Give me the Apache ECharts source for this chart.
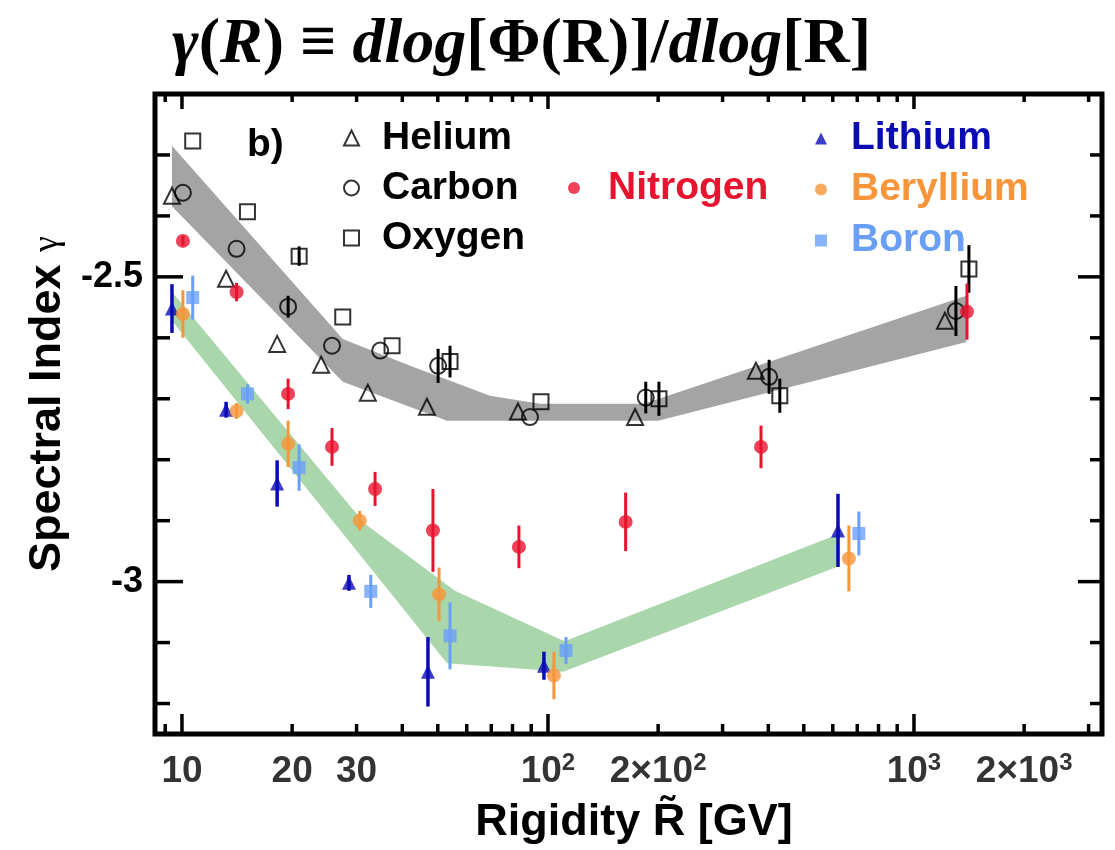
<!DOCTYPE html>
<html>
<head>
<meta charset="utf-8">
<script src="https://cdn.jsdelivr.net/npm/echarts@6/dist/echarts.min.js"></script>
<style>
  html, body { margin: 0; padding: 0; background: #ffffff; }
  #chart { width: 1115px; height: 850px; }
</style>
</head>
<body>
<div id="chart"></div>
<script>
// Spectral index gamma(R) = dlog[Phi(R)]/dlog[R] of cosmic-ray nuclei versus rigidity

// Primary nuclei (open markers)
const heliumR     = [9.39, 13.2, 18.2, 24.0, 32.2, 46.7, 82.8, 173, 370, 1215];
const heliumGamma = [-2.367, -2.503, -2.610, -2.644, -2.690, -2.713, -2.721, -2.730, -2.654, -2.572];
const heliumErr   = [0, 0, 0, 0, 0, 0, 0, 0, 0, 0];

const carbonR     = [10.06, 14.1, 19.5, 25.7, 34.8, 50.1, 89.3, 185, 402, 1302];
const carbonGamma = [-2.362, -2.454, -2.549, -2.613, -2.621, -2.646, -2.730, -2.698, -2.664, -2.556];
const carbonErr   = [0, 0, 0.018, 0, 0, 0.028, 0, 0.026, 0.028, 0.041];

const oxygenR     = [10.7, 15.1, 20.9, 27.5, 37.5, 54.0, 95.7, 201, 430, 1413];
const oxygenGamma = [-2.277, -2.393, -2.466, -2.566, -2.613, -2.639, -2.705, -2.700, -2.695, -2.487];
const oxygenErr   = [0, 0, 0.016, 0, 0, 0.026, 0, 0.028, 0.028, 0.039];

// Nitrogen
const nitrogenR     = [10.06, 14.1, 19.5, 25.7, 33.7, 48.5, 83.3, 163, 382, 1396];
const nitrogenGamma = [-2.441, -2.525, -2.692, -2.779, -2.848, -2.916, -2.943, -2.902, -2.779, -2.557];
const nitrogenErr   = [0.008, 0.015, 0.025, 0.031, 0.028, 0.068, 0.035, 0.048, 0.035, 0.046];

// Secondary nuclei
const lithiumR     = [9.39, 13.2, 18.2, 28.6, 47.0, 97.5, 620];
const lithiumGamma = [-2.552, -2.718, -2.839, -3.002, -3.148, -3.138, -2.916];
const lithiumErr   = [0.040, 0.013, 0.038, 0.013, 0.057, 0.023, 0.060];

const berylliumR     = [10.06, 14.1, 19.5, 30.6, 50.4, 103.8, 664];
const berylliumGamma = [-2.561, -2.720, -2.774, -2.900, -3.021, -3.154, -2.962];
const berylliumErr   = [0.039, 0.013, 0.038, 0.016, 0.044, 0.039, 0.054];

const boronR     = [10.7, 15.1, 20.9, 32.8, 54.0, 112, 707];
const boronGamma = [-2.534, -2.692, -2.813, -3.016, -3.089, -3.113, -2.921];
const boronErr   = [0.036, 0.016, 0.038, 0.027, 0.055, 0.022, 0.036];

// Model bands: upper and lower edges
const grayUpperR     = [9.39, 27.5, 42.0, 69.4, 95.1, 183, 1390];
const grayUpperGamma = [-2.285, -2.602, -2.646, -2.695, -2.708, -2.708, -2.531];
const grayLowerR     = [9.39, 27.5, 53.0, 200, 1390];
const grayLowerGamma = [-2.384, -2.672, -2.736, -2.736, -2.607];

const greenUpperR     = [9.39, 31.6, 55.7, 111, 628];
const greenUpperGamma = [-2.525, -2.905, -3.015, -3.098, -2.921];
const greenLowerR     = [9.39, 53.0, 110, 628];
const greenLowerGamma = [-2.572, -3.134, -3.148, -2.974];

// Axes
const xMin = 8.44, xMax = 3264;
const yMin = -3.25, yMax = -2.2;
const xTickValues = [10, 20, 30, 100, 200, 1000, 2000];
const xTickLabels = ['10', '20', '30', '10^2', '2×10^2', '10^3', '2×10^3'];
const xTickMarks  = [9, 10, 20, 30, 40, 50, 60, 70, 80, 90, 100, 200, 300, 400, 500, 600, 700, 800, 900, 1000, 2000, 3000];
const yTickMarks  = [-3.2, -3.1, -3.0, -2.9, -2.8, -2.7, -2.6, -2.5, -2.4, -2.3];

const SANS = '"Liberation Sans", Arial, Helvetica, sans-serif';
const SERIF = '"Liberation Serif", "Times New Roman", serif';

const C = {
  black: '#000000',
  gray: '#a4a4a4',
  green: '#a9d6ab',
  nitrogen: '#e8132e',
  lithium: '#0b0bb5',
  beryllium: '#f7953a',
  boron: '#6a9ff7'
};

const zip = (a, b) => a.map((v, i) => [v, b[i]]);

function bandSeries(name, upR, upG, loR, loG, color) {
  const pts = zip(upR, upG).concat(zip(loR, loG).reverse());
  return {
    type: 'custom', name: name, z: 1, silent: true, clip: false,
    dimensions: ['r', 'g'],
    encode: { x: 0, y: 1 },
    data: pts,
    renderItem: function (params, api) {
      if (params.dataIndexInside !== 0) return null;
      const poly = [];
      for (let i = 0; i < params.dataInsideLength; i++) {
        poly.push(api.coord([api.value(0, i), api.value(1, i)]));
      }
      return { type: 'polygon', shape: { points: poly }, style: { fill: color } };
    }
  };
}

function errorSeries(name, R, G, E, color, width) {
  return {
    type: 'custom', name: name + ' error', z: 3, silent: true, clip: false,
    dimensions: ['r', 'lo', 'hi'],
    encode: { x: 0, y: [1, 2] },
    data: R.map((r, i) => [r, G[i] - E[i], G[i] + E[i]]),
    renderItem: function (params, api) {
      if (api.value(1) === api.value(2)) return null;
      const a = api.coord([api.value(0), api.value(1)]);
      const b = api.coord([api.value(0), api.value(2)]);
      return {
        type: 'line',
        shape: { x1: a[0], y1: a[1], x2: b[0], y2: b[1] },
        style: { stroke: color, lineWidth: width }
      };
    }
  };
}

function pointSeries(name, R, G, symbol, size, open, color) {
  return {
    type: 'scatter', name: name, z: 4, clip: false,
    symbol: symbol, symbolSize: size,
    itemStyle: open
      ? { color: 'rgba(0,0,0,0)', borderColor: color, borderWidth: 2 }
      : { color: color, borderWidth: 0 },
    data: zip(R, G)
  };
}

const isDecade = v => Math.abs(Math.log10(v) - Math.round(Math.log10(v))) < 1e-9;
const isHalf = g => Math.abs(g * 2 - Math.round(g * 2)) < 1e-9;

function line(x1, y1, x2, y2) {
  return { type: 'line', shape: { x1, y1, x2, y2 }, style: { stroke: '#000', lineWidth: 3.5 } };
}

const xTickSeries = {
  type: 'custom', name: 'x ticks', z: 6, silent: true, clip: false,
  dimensions: ['r', 'g', 'major'],
  encode: { x: 0, y: 1 },
  data: xTickMarks.map(v => [v, yMin, isDecade(v) ? 1 : 0]),
  renderItem: function (params, api) {
    const cs = params.coordSys;
    const p = api.coord([api.value(0), yMin]);
    const major = api.value(2) === 1;
    const bottom = cs.y + cs.height;
    return {
      type: 'group',
      children: [
        line(p[0], bottom, p[0], bottom - (major ? 20 : 10)),
        line(p[0], cs.y, p[0], cs.y + (major ? 15 : 8))
      ]
    };
  }
};

const yTickSeries = {
  type: 'custom', name: 'y ticks', z: 6, silent: true, clip: false,
  dimensions: ['r', 'g', 'major'],
  encode: { x: 0, y: 1 },
  data: yTickMarks.map(g => [xMin, g, isHalf(g) ? 1 : 0]),
  renderItem: function (params, api) {
    const cs = params.coordSys;
    const p = api.coord([xMin, api.value(1)]);
    const major = api.value(2) === 1;
    const right = cs.x + cs.width;
    return {
      type: 'group',
      children: [
        line(cs.x, p[1], cs.x + (major ? 28 : 15), p[1]),
        line(right, p[1], right - (major ? 24 : 12), p[1])
      ]
    };
  }
};

function richTick(s) {
  const m = s.match(/^(.*)\^(\d)$/);
  return m ? '{n|' + m[1] + '}{s|' + m[2] + '}' : '{n|' + s + '}';
}

const xLabelSeries = {
  type: 'scatter', name: 'x labels', z: 6, silent: true, clip: false,
  symbolSize: 0,
  data: xTickValues.map(v => [v, yMin]),
  label: {
    show: true, position: 'bottom', distance: 17,
    formatter: p => richTick(xTickLabels[p.dataIndex]),
    rich: {
      n: { fontFamily: SANS, fontWeight: 'bold', fontSize: 37, color: '#000', lineHeight: 41 },
      s: { fontFamily: SANS, fontWeight: 'bold', fontSize: 24, color: '#000', lineHeight: 24, verticalAlign: 'top' }
    }
  }
};

const legendText = { fontFamily: SANS, fontWeight: 'bold', fontSize: 39, color: '#000' };

const option = {
  animation: false,
  backgroundColor: '#ffffff',
  title: [
    {
      text: '{i|γ}{u|(}{i|R}{u|) ≡ }{i|dlog}{u|[Φ(R)]/}{i|dlog}{u|[R]}',
      left: 172, top: 13, padding: 0,
      textStyle: {
        rich: {
          i: { fontFamily: SERIF, fontStyle: 'italic', fontWeight: 'bold', fontSize: 64, color: '#000' },
          u: { fontFamily: SERIF, fontWeight: 'bold', fontSize: 64, color: '#000' }
        }
      }
    },
    {
      text: 'b)', left: 247, top: 126, padding: 0,
      textStyle: { fontFamily: SANS, fontWeight: 'bold', fontSize: 39, color: '#000' }
    }
  ],
  legend: [
    {
      data: ['Helium', 'Carbon', 'Oxygen'],
      orient: 'vertical', left: 343, top: 113, padding: 0, itemGap: 0,
      itemWidth: 15, itemHeight: 15, selectedMode: false,
      textStyle: Object.assign({}, legendText, { lineHeight: 50, padding: [0, 0, 0, 18] })
    },
    {
      data: [{ name: 'Nitrogen', textStyle: { color: C.nitrogen } }],
      orient: 'vertical', left: 568, top: 163, padding: 0, itemGap: 0,
      itemWidth: 12, itemHeight: 12, selectedMode: false,
      textStyle: Object.assign({}, legendText, { lineHeight: 50, padding: [0, 0, 0, 23] })
    },
    {
      data: [
        { name: 'Lithium', textStyle: { color: C.lithium } },
        { name: 'Beryllium', textStyle: { color: C.beryllium } },
        { name: 'Boron', textStyle: { color: C.boron } }
      ],
      orient: 'vertical', left: 815, top: 113, padding: 0, itemGap: 0,
      itemWidth: 12, itemHeight: 12, selectedMode: false,
      textStyle: Object.assign({}, legendText, { lineHeight: 51, padding: [0, 0, 0, 19] })
    }
  ],
  grid: {
    left: 155, right: 13, top: 94, bottom: 113,
    show: true, borderColor: '#000', borderWidth: 5, backgroundColor: 'transparent'
  },
  xAxis: {
    type: 'log', logBase: 10, min: xMin, max: xMax,
    axisLine: { show: false }, axisTick: { show: false },
    axisLabel: { show: false }, splitLine: { show: false }, minorTick: { show: false },
    name: 'Rigidity R\u0303 [GV]', nameLocation: 'middle', nameGap: 66,
    nameTextStyle: { fontFamily: SANS, fontWeight: 'bold', fontSize: 45, color: '#000', padding: [0, 0, 0, 11] }
  },
  yAxis: {
    type: 'value', min: yMin, max: yMax, interval: 0.25,
    axisLine: { show: false }, axisTick: { show: false }, splitLine: { show: false },
    axisLabel: {
      show: true, margin: 12, color: '#000',
      fontFamily: SANS, fontWeight: 'bold', fontSize: 36,
      showMinLabel: true, showMaxLabel: true,
      formatter: v => (Math.abs(v + 3) < 1e-9 ? '-3' : (Math.abs(v + 2.5) < 1e-9 ? '-2.5' : ''))
    },
    name: '{a|Spectral Index }{g|γ}', nameLocation: 'middle', nameGap: 84, nameRotate: 90,
    nameTextStyle: {
      padding: [0, 0, 0, 20],
      rich: {
        a: { fontFamily: SANS, fontWeight: 'bold', fontSize: 45, color: '#000' },
        g: { fontFamily: SERIF, fontSize: 36, color: '#000' }
      }
    }
  },
  series: [
    bandSeries('gray band', grayUpperR, grayUpperGamma, grayLowerR, grayLowerGamma, C.gray),
    bandSeries('green band', greenUpperR, greenUpperGamma, greenLowerR, greenLowerGamma, C.green),

    errorSeries('Helium', heliumR, heliumGamma, heliumErr, C.black, 3),
    errorSeries('Carbon', carbonR, carbonGamma, carbonErr, C.black, 3),
    errorSeries('Oxygen', oxygenR, oxygenGamma, oxygenErr, C.black, 3),
    errorSeries('Nitrogen', nitrogenR, nitrogenGamma, nitrogenErr, C.nitrogen, 3),
    errorSeries('Lithium', lithiumR, lithiumGamma, lithiumErr, C.lithium, 3.5),
    errorSeries('Beryllium', berylliumR, berylliumGamma, berylliumErr, C.beryllium, 3),
    errorSeries('Boron', boronR, boronGamma, boronErr, C.boron, 3),

    pointSeries('Helium', heliumR, heliumGamma, 'triangle', 16, true, C.black),
    pointSeries('Carbon', carbonR, carbonGamma, 'circle', 16, true, C.black),
    pointSeries('Oxygen', oxygenR, oxygenGamma, 'rect', 15, true, C.black),
    pointSeries('Nitrogen', nitrogenR, nitrogenGamma, 'circle', 14, false, C.nitrogen),
    pointSeries('Lithium', lithiumR, lithiumGamma, 'triangle', 14, false, C.lithium),
    pointSeries('Beryllium', berylliumR, berylliumGamma, 'circle', 14, false, C.beryllium),
    pointSeries('Boron', boronR, boronGamma, 'rect', 13, false, C.boron),

    xTickSeries,
    yTickSeries,
    xLabelSeries
  ]
};

const chart = echarts.init(document.getElementById('chart'), null, { renderer: 'canvas' });
chart.setOption(option);
</script>
</body>
</html>
